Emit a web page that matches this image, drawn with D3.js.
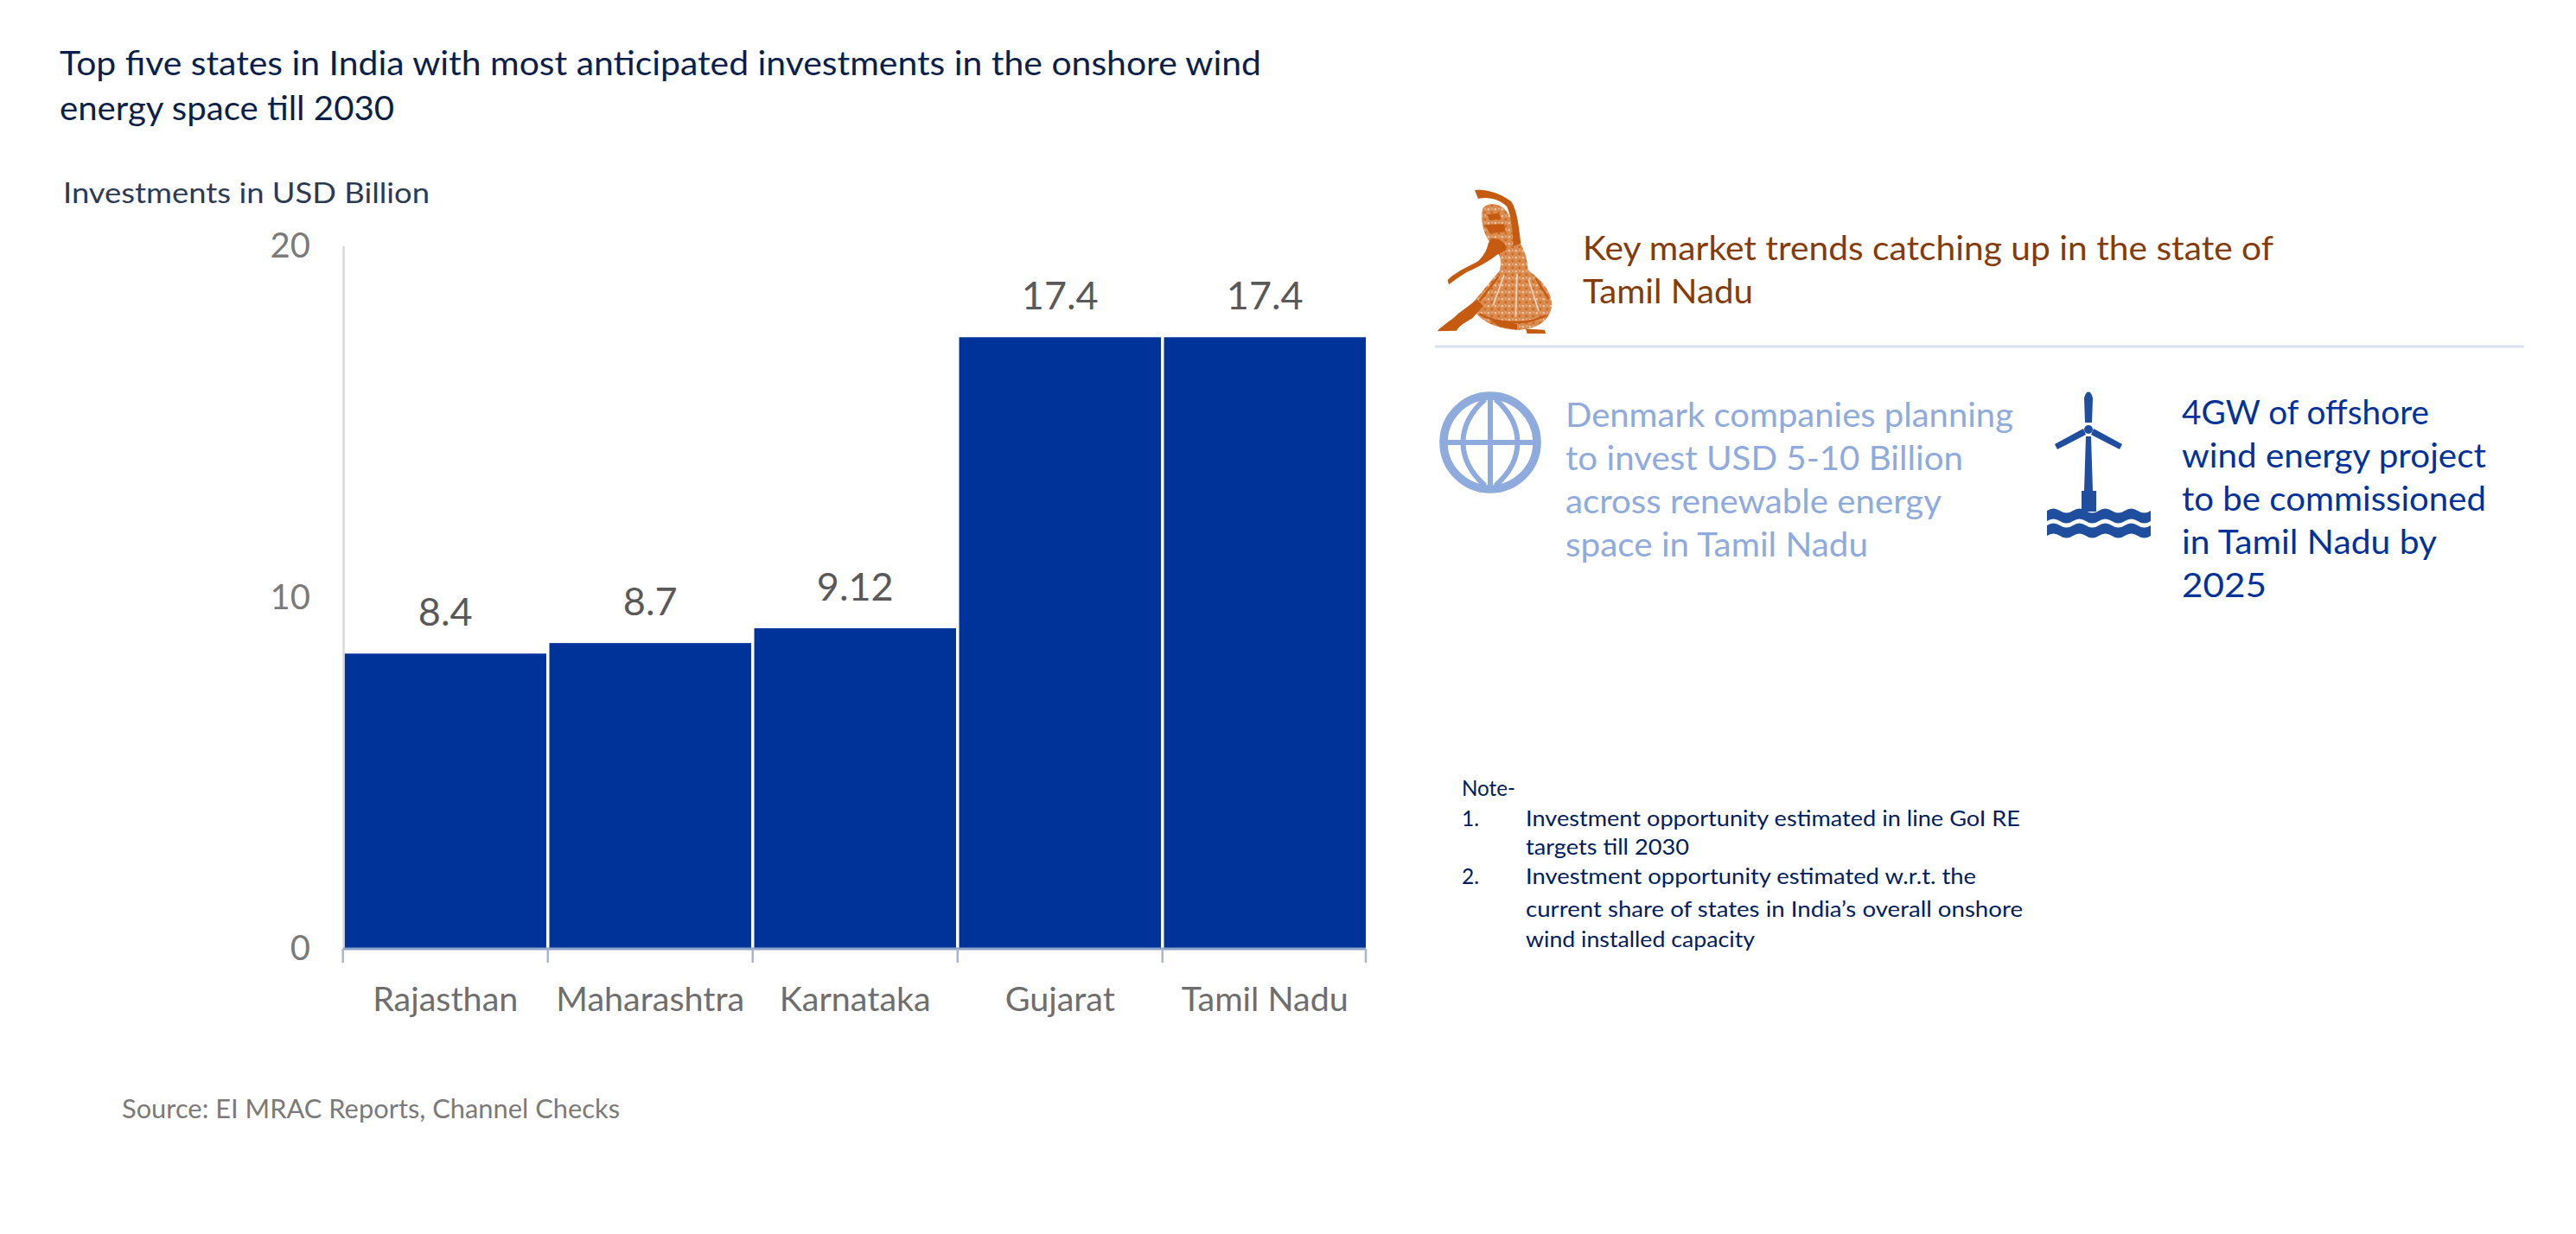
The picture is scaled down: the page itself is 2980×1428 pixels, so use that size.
<!DOCTYPE html>
<html><head><meta charset="utf-8">
<script src="https://cdn.jsdelivr.net/npm/d3@7"></script>
<style>html,body{margin:0;padding:0;background:#fff}svg{display:block}text{font-family:Lato,sans-serif}</style>
</head><body><svg id="c" width="2980" height="1428"></svg>
<script>
const categories = ["Rajasthan","Maharashtra","Karnataka","Gujarat","Tamil Nadu"];
const investments = [8.4,8.7,9.12,17.4,17.4];
const valueLabels = ["8.4","8.7","9.12","17.4","17.4"];
const yTicks = [0,10,20];
const titleLines = ["Top five states in India with most anticipated investments in the onshore wind","energy space till 2030"];
const yAxisTitle = "Investments in USD Billion";
const sourceText = "Source: EI MRAC Reports, Channel Checks";
const headerLines = ["Key market trends catching up in the state of","Tamil Nadu"];
const denmarkLines = ["Denmark companies planning","to invest USD 5-10 Billion","across renewable energy","space in Tamil Nadu"];
const offshoreLines = ["4GW of offshore","wind energy project","to be commissioned","in Tamil Nadu by","2025"];

const svg = d3.select("#c");
const x = d3.scaleBand().domain(categories).range([398.5,1580]).paddingInner(0.015);
const y = d3.scaleLinear().domain([0,20]).range([1098,284.5]);

function txt(s,px,py,size,color,width,anchor){
  const t = svg.append("text").attr("x",px).attr("y",py).attr("font-size",size).attr("fill",color).text(s);
  if(anchor) t.attr("text-anchor",anchor);
  if(width){t.attr("textLength",width).attr("lengthAdjust","spacingAndGlyphs");}
  return t;
}

// title and axis title
txt(titleLines[0],69,87,38,"#0b1f4b",1390);
txt(titleLines[1],69,139,38,"#0b1f4b",387);
txt(yAxisTitle,73,235,32,"#2c3a54",424);

// bars
svg.append("g").selectAll("rect").data(investments).join("rect")
  .attr("x",(d,i)=>x(categories[i])).attr("width",x.bandwidth())
  .attr("y",d=>y(d)).attr("height",d=>y(0)-y(d)).attr("fill","#003399");

// value labels
svg.append("g").selectAll("text").data(investments).join("text")
  .attr("x",(d,i)=>x(categories[i])+x.bandwidth()/2).attr("y",d=>y(d)-32)
  .attr("text-anchor","middle").attr("font-size",45).attr("fill","#595959")
  .text((d,i)=>valueLabels[i]);

// y axis
const gy = svg.append("g").attr("transform","translate(397,0)")
  .call(d3.axisLeft(y).tickValues(yTicks).tickSize(0).tickPadding(38));
gy.select(".domain").attr("stroke","#d9d9d9").attr("stroke-width",2.5);
gy.selectAll("text").attr("font-size",40).attr("fill","#7a7a7a").attr("font-family","Lato");

// x axis
const gx = svg.append("g").attr("transform","translate(0,1098)")
  .call(d3.axisBottom(x).tickSize(0).tickPadding(44));
gx.select(".domain").remove();
gx.selectAll("text").attr("font-size",39.5).attr("fill","#6e6e6e").attr("font-family","Lato");
const gridEdges = categories.map(c=>x(c)-x.step()*x.paddingInner()/2).concat([x.range()[1]]);
gx.append("line").attr("x1",397).attr("x2",1580).attr("y1",0).attr("y2",0).attr("stroke","#8ea3c8").attr("stroke-width",3);
gx.selectAll("line.edge").data(gridEdges).join("line").attr("class","edge")
  .attr("x1",d=>d).attr("x2",d=>d).attr("y1",0).attr("y2",16).attr("stroke","#a9b6cf").attr("stroke-width",2.5);

txt(sourceText,141,1294,30,"#7a7a7a",576);

// header
txt(headerLines[0],1831,301,38,"#843c0c",799);
txt(headerLines[1],1831,351,38,"#843c0c",197);
svg.append("line").attr("x1",1660).attr("x2",2920).attr("y1",401).attr("y2",401).attr("stroke","#dae1ee").attr("stroke-width",3);

// dancer icon (local coordinates = 3x zoom units)
const defs = svg.append("defs");
const pat = defs.append("pattern").attr("id","speck").attr("width",24).attr("height",24).attr("patternUnits","userSpaceOnUse");
pat.append("rect").attr("width",24).attr("height",24).attr("fill","#d98a4f");
pat.append("rect").attr("x",2).attr("y",3).attr("width",7).attr("height",7).attr("fill","#efc4a0");
pat.append("rect").attr("x",14).attr("y",14).attr("width",7).attr("height",7).attr("fill","#c9681f");
pat.append("rect").attr("x",15).attr("y",2).attr("width",6).attr("height",6).attr("fill","#e6ab7c");
const dancer = svg.append("g").attr("transform","translate(1640,200) scale(0.3333)");
dancer.append("path").attr("fill","url(#speck)").attr("d","M292,330 C330,318 375,322 392,345 C440,380 470,425 465,465 C458,515 410,545 345,545 C290,545 235,525 205,490 L190,452 C225,410 260,370 292,330Z");
dancer.append("path").attr("fill","url(#speck)").attr("d","M225,125 C240,100 285,105 305,130 C330,165 345,190 350,235 C370,265 382,300 382,335 L285,335 C295,300 285,280 250,240 C225,205 218,160 225,125Z");
dancer.append("path").attr("fill","#c55a11").attr("d","M198,60 C240,55 290,72 325,100 C345,130 350,180 358,245 L332,255 C330,200 325,150 310,118 C285,92 245,82 210,90Z");
dancer.append("path").attr("fill","#c55a11").attr("d","M255,228 C285,225 310,245 308,268 L275,285 C250,305 215,325 170,345 C150,358 128,372 108,388 L104,372 C125,350 165,330 205,310 C225,295 240,270 245,245Z");
dancer.append("path").attr("fill","#c55a11").attr("d","M205,440 L228,462 L190,505 C165,520 145,530 135,548 L68,550 C90,525 120,512 140,490Z");
dancer.append("path").attr("fill","#c55a11").attr("d","M240,145 L282,140 L290,160 L250,165Z M232,180 L300,178 L305,205 L250,210Z");
dancer.append("path").attr("fill","#c55a11").attr("d","M375,542 L440,545 L445,558 L380,558Z M250,510 L345,525 L345,545 L285,535Z");
dancer.append("path").attr("fill","none").attr("stroke","#f3d5bd").attr("stroke-width",5).attr("d","M300,355 L262,460 M345,350 L340,500 M385,370 L420,480");
dancer.append("path").attr("fill","none").attr("stroke","#c55a11").attr("stroke-width",7).attr("d","M280,360 L215,445 M410,365 L455,440 M215,490 C270,525 380,530 445,495");

// globe icon
const globe = svg.append("g").attr("transform","translate(1724,512)").attr("fill","none").attr("stroke","#8faadc").attr("stroke-width",9.5);
globe.append("circle").attr("r",54);
globe.append("line").attr("y1",-54).attr("y2",54).attr("stroke-width",6);
globe.append("line").attr("x1",-54).attr("x2",54).attr("stroke-width",6);
globe.append("path").attr("stroke-width",6).attr("d","M-6,-50 C-40,-20 -40,20 -6,50 M6,-50 C40,-20 40,20 6,50");
denmarkLines.forEach((s,i)=>txt(s,1811,494+i*50,38,"#8faadc",[518,460,435,350][i]));

// turbine icon
const tur = svg.append("g").attr("transform","translate(2416,497)").attr("fill","#1f4e9f");
tur.append("path").attr("d","M-5,-36 C-3,-46 3,-46 5,-36 L4,-8 L-4,-8Z");
tur.append("circle").attr("r",5);
tur.append("path").attr("d","M-6,-1 L-39,17 L-36,23 L-3,6Z M6,-1 L39,17 L36,23 L3,6Z");
tur.append("path").attr("d","M-3,8 L3,8 L5,71 L-5,71Z");
tur.append("rect").attr("x",-8).attr("y",71).attr("width",17).attr("height",24);
const wave = "M-48,0 q7.5,-5 15,0 t15,0 t15,0 t15,0 t15,0 t15,0 t15,0 t15,0 v12 q-7.5,5 -15,0 t-15,0 t-15,0 t-15,0 t-15,0 t-15,0 t-15,0 t-15,0Z";
tur.append("path").attr("d",wave).attr("transform","translate(0,94)");
tur.append("path").attr("d",wave).attr("transform","translate(0,111)");
offshoreLines.forEach((s,i)=>txt(s,2524,491+i*50,38,"#003399",[286,352,352,295,98][i]));

// notes
const noteColor="#002060";
txt("Note-",1691,921,24.5,noteColor,62);
txt("1.",1691,956,24.5,noteColor,20);
txt("Investment opportunity estimated in line GoI RE",1765,956,24.5,noteColor,572);
txt("targets till 2030",1765,989,24.5,noteColor,189);
txt("2.",1691,1023,24.5,noteColor,20);
txt("Investment opportunity estimated w.r.t. the",1765,1023,24.5,noteColor,521);
txt("current share of states in India\u2019s overall onshore",1765,1061,24.5,noteColor,575);
txt("wind installed capacity",1765,1096,24.5,noteColor,265);
</script></body></html>
